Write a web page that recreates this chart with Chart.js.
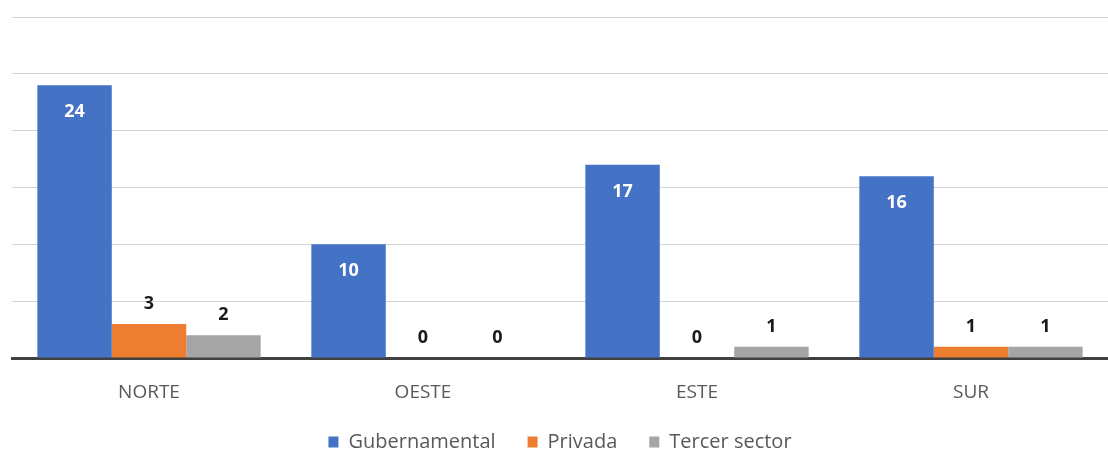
<!DOCTYPE html>
<html>
<head>
<meta charset="utf-8">
<script src="https://cdn.jsdelivr.net/npm/chart.js@4.4.1/dist/chart.umd.min.js"></script>
<style>
html,body{margin:0;padding:0;background:#fff;}
#wrap{width:1108px;height:455px;position:relative;}
</style>
</head>
<body>
<div id="wrap"><canvas id="c" width="1108" height="455"></canvas></div>
<script>
const categories = ["NORTE", "OESTE", "ESTE", "SUR"];
const gubernamental = [24, 10, 17, 16];
const privada = [3, 0, 0, 1];
const tercerSector = [2, 0, 1, 1];
const seriesNames = ["Gubernamental", "Privada", "Tercer sector"];

const labelPlugin = {
  id: 'barLabels',
  afterDatasetsDraw(chart) {
    const ctx = chart.ctx;
    ctx.save();
    ctx.font = 'bold 18px "Open Sans"';
    ctx.textAlign = 'center';
    ctx.textBaseline = 'middle';
    chart.data.datasets.forEach((ds, di) => {
      const meta = chart.getDatasetMeta(di);
      meta.data.forEach((el, i) => {
        const v = ds.data[i];
        if (di === 0) {
          ctx.fillStyle = '#ffffff';
          ctx.fillText(String(v), el.x, el.y + 27);
        } else {
          ctx.fillStyle = '#1a1a1a';
          ctx.fillText(String(v), el.x, el.y - 20);
        }
      });
    });
    ctx.restore();
  }
};

new Chart(document.getElementById('c'), {
  type: 'bar',
  data: {
    labels: categories,
    datasets: [
      { label: seriesNames[0], data: gubernamental, backgroundColor: '#4472C4' },
      { label: seriesNames[1], data: privada, backgroundColor: '#ED7D31' },
      { label: seriesNames[2], data: tercerSector, backgroundColor: '#A5A5A5' }
    ]
  },
  options: {
    responsive: false,
    animation: false,
    layout: { padding: { top: 17, left: 12, right: 0, bottom: 0 } },
    datasets: { bar: { barPercentage: 1.0, categoryPercentage: 0.815 } },
    scales: {
      x: {
        grid: { display: false },
        border: { display: true, color: '#404040', width: 3 },
        ticks: { color: '#595959', font: { family: 'Open Sans', size: 19 }, padding: 15 },
        afterFit(scale) { scale.height = 42; }
      },
      y: {
        min: 0, max: 30,
        ticks: { display: false, stepSize: 5 },
        grid: { color: '#d4d4d4', lineWidth: 1, drawTicks: false },
        border: { display: false }
      }
    },
    plugins: {
      legend: {
        position: 'bottom',
        maxHeight: 55,
        labels: { boxWidth: 10, boxHeight: 11, color: '#595959', font: { family: 'Open Sans', size: 20 }, padding: 32 }
      },
      tooltip: { enabled: false }
    }
  },
  plugins: [labelPlugin]
});
</script>
</body>
</html>
